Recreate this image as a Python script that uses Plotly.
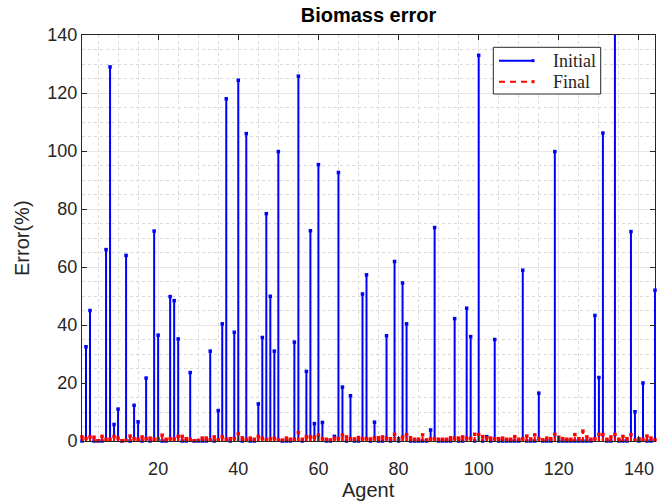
import plotly.graph_objects as go

# Agent index and biomass error (%) before and after estimation
agents = list(range(1, 145))

initial_err = [
    0, 32.5, 45.0, 0, 0, 0, 66.0, 129.0, 5.7, 11.0,
    0, 64.0, 0, 12.3, 6.6, 0, 21.7, 0, 72.4, 36.5,
    0, 0, 49.8, 48.4, 35.2, 0, 0, 23.6, 0, 0,
    0, 0, 31.0, 0, 10.5, 40.4, 118.0, 0, 37.5, 124.4,
    0, 106.0, 0, 0, 12.8, 35.7, 78.4, 49.9, 31.0, 99.8,
    0, 0, 0, 34.1, 125.8, 0, 24.0, 72.5, 6.0, 95.3,
    6.4, 0, 0, 1.6, 92.6, 18.6, 0, 15.6, 0, 0,
    50.7, 57.3, 0, 6.5, 0, 0, 36.3, 0, 61.9, 0,
    54.5, 40.4, 0, 0, 0, 0, 0, 3.8, 73.6, 0,
    0, 0, 0, 42.2, 0, 0, 45.8, 36.0, 0, 133.0,
    0, 1.5, 0, 35.0, 0, 0, 0, 0, 0, 0,
    58.9, 0, 0, 0, 16.5, 0, 0, 0, 99.8, 0,
    0, 0, 0, 0, 0, 0, 0, 0, 43.3, 21.9,
    106.2, 0, 0, 148.0, 0, 0, 0, 72.2, 10.1, 0,
    20.0, 0, 0, 52.0,
]

final_err = [
    1.4, 0.9, 1.4, 1.3, 0.1, 1.6, 0.6, 0.6, 1.6, 1.0,
    0.1, 0.2, 1.7, 0.8, 0.6, 1.4, 0.8, 1.0, 0.6, 0.7,
    2.0, 0.6, 0.8, 0.7, 1.6, 1.6, 0.8, 0.6, 0.1, 0.2,
    1.0, 1.0, 0.4, 1.4, 0.4, 1.5, 0.6, 0.8, 0.9, 2.5,
    1.1, 0.6, 1.0, 0.6, 1.6, 1.0, 0.4, 0.8, 1.0, 0.4,
    0.3, 1.0, 0.6, 0.6, 2.9, 0.6, 1.5, 1.4, 1.3, 2.0,
    0.8, 0.6, 0.4, 1.0, 0.8, 2.1, 1.4, 0.8, 0.7, 1.2,
    0.8, 0.9, 0.7, 1.1, 1.1, 1.4, 1.0, 0.8, 2.3, 0.8,
    1.4, 2.2, 1.1, 0.6, 0.6, 2.1, 0.4, 0.8, 0.8, 0.6,
    0.6, 0.6, 1.1, 1.0, 1.0, 1.4, 1.0, 0.9, 2.3, 2.2,
    1.5, 1.1, 1.0, 0.8, 0.8, 1.0, 0.6, 0.6, 1.5, 0.6,
    0.8, 1.7, 0.7, 2.1, 0.8, 0.4, 1.0, 0.8, 2.3, 1.3,
    0.8, 0.6, 0.6, 2.2, 0.8, 3.4, 1.4, 0.6, 0.8, 2.3,
    2.2, 0.6, 1.4, 2.3, 0.6, 1.6, 0.8, 2.2, 0.3, 0.8,
    0.6, 1.7, 1.0, 0.4,
]

x_ticks = [20, 40, 60, 80, 100, 120, 140]
y_ticks = [0, 20, 40, 60, 80, 100, 120, 140]

BLUE = "#0000ff"
RED = "#ff0000"
AXIS = "#262626"


def stem_xy(xs, ys):
    """Vertical segments from the baseline to each value, separated by gaps."""
    sx, sy = [], []
    for x, y in zip(xs, ys):
        sx += [x, x, None]
        sy += [0, y, None]
    return sx, sy


fig = go.Figure()

for vals, color, dash in [(initial_err, BLUE, "solid"), (final_err, RED, "4px,3px")]:
    sx, sy = stem_xy(agents, vals)
    fig.add_trace(go.Scatter(
        x=sx, y=sy, mode="lines",
        line=dict(color=color, width=2, dash=dash),
        showlegend=False, hoverinfo="skip",
    ))
    fig.add_trace(go.Scatter(
        x=agents, y=vals, mode="markers",
        marker=dict(color=color, size=3.5, symbol="square"),
        cliponaxis=False, showlegend=False,
    ))

# plot-area geometry (pixels)
W, H = 667, 503
ML, MR, MT, MB = 82, 12, 35, 62
PW, PH = W - ML - MR, H - MT - MB


def px_x(p):
    return (p - ML) / PW


def px_y(p):
    return (H - MB - p) / PH


axis_common = dict(
    showline=True, linecolor=AXIS, linewidth=1, mirror="ticks",
    ticks="inside", ticklen=5, tickcolor=AXIS, tickwidth=1,
    showgrid=True, gridcolor="#e6e6e6", gridwidth=1,
    zeroline=False,
    tickfont=dict(family="Liberation Sans, Arial, sans-serif", size=18, color=AXIS),
    minor=dict(showgrid=True, gridcolor="#dadada", griddash="dot", gridwidth=1,
               dtick=5, tick0=0, ticks=""),
)

fig.update_xaxes(range=[1, 144], tickvals=x_ticks, ticklabelstandoff=11, **axis_common)
fig.update_yaxes(range=[0, 140], tickvals=y_ticks, **axis_common)

# legend box drawn by hand (line sample with end marker, serif labels)
shapes = [
    dict(type="rect", xref="paper", yref="paper",
         x0=px_x(493.3), x1=px_x(600.7), y0=px_y(94), y1=px_y(47.3),
         line=dict(color=AXIS, width=1), fillcolor="white", layer="above"),
]
annotations = []
for label, color, dash, py in [("Initial", BLUE, "solid", 60.7), ("Final", RED, "6px,5px", 81.7)]:
    shapes.append(dict(type="line", xref="paper", yref="paper",
                       x0=px_x(499), x1=px_x(533), y0=px_y(py), y1=px_y(py),
                       line=dict(color=color, width=2, dash=dash), layer="above"))
    shapes.append(dict(type="rect", xref="paper", yref="paper",
                       x0=px_x(531.5), x1=px_x(534.5), y0=px_y(py + 1.5), y1=px_y(py - 1.5),
                       line=dict(width=0), fillcolor=color, layer="above"))
    annotations.append(dict(
        text=label, xref="paper", yref="paper", x=px_x(550.5), y=px_y(py),
        xanchor="left", yanchor="middle", showarrow=False,
        font=dict(family="Liberation Serif, Times New Roman, serif", size=18, color=AXIS),
    ))

annotations.append(dict(
    text="Agent", xref="paper", yref="paper", x=0.5, y=px_y(490),
    xanchor="center", yanchor="middle", showarrow=False,
    font=dict(family="Liberation Sans, Arial, sans-serif", size=20, color=AXIS),
))
annotations.append(dict(
    text="Error(%)", xref="paper", yref="paper", x=px_x(22), y=0.5,
    xanchor="center", yanchor="middle", showarrow=False, textangle=-90,
    font=dict(family="Liberation Sans, Arial, sans-serif", size=20, color=AXIS),
))

fig.update_layout(
    width=W, height=H,
    margin=dict(l=ML, r=MR, t=MT, b=MB),
    paper_bgcolor="white", plot_bgcolor="white",
    title=dict(text="<b>Biomass error</b>", x=(ML + PW / 2) / W, xanchor="center",
               y=1 - 15 / H, yanchor="middle", yref="container",
               font=dict(family="Liberation Sans, Arial, sans-serif", size=20, color="black")),
    shapes=shapes, annotations=annotations,
    showlegend=False,
)

fig.write_html("out.html")
